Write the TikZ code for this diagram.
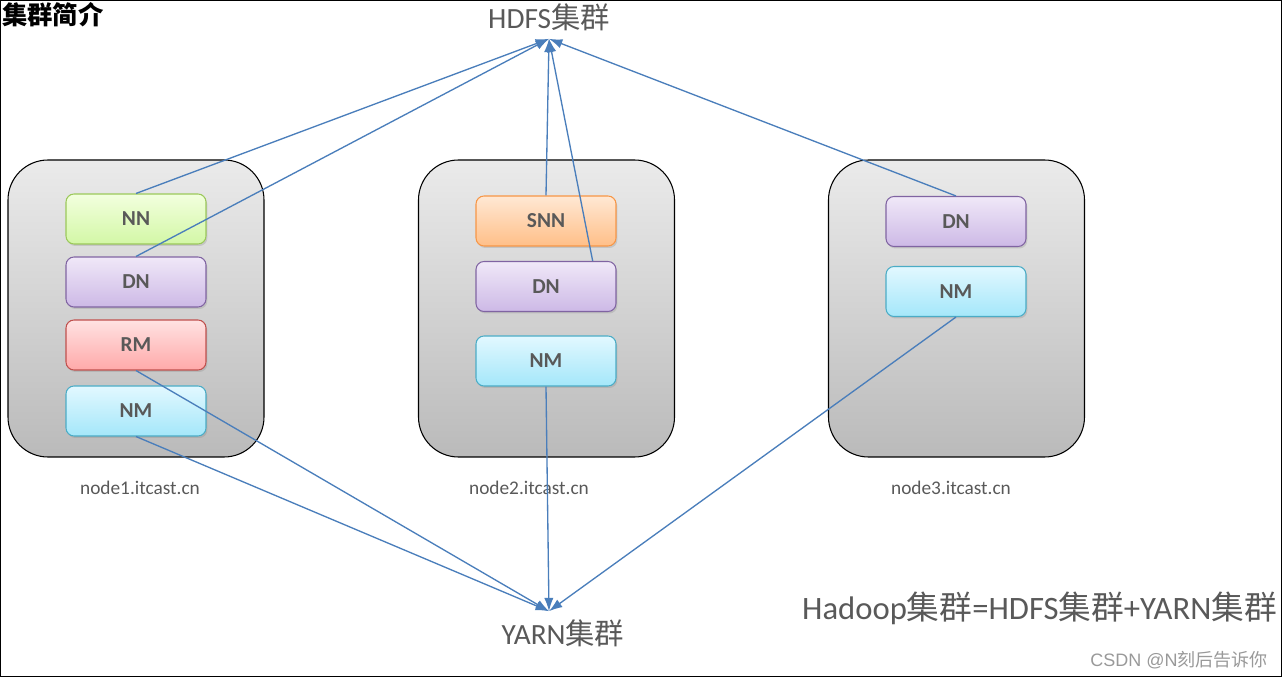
\documentclass[tikz,border=0pt]{standalone}
\usepackage{fontspec}
\setmainfont{Carlito}
\newfontfamily\cjk{Noto Sans CJK SC}
\newfontfamily\wmfont{Liberation Sans}
\usetikzlibrary{arrows.meta,shadows}
\definecolor{txtgray}{HTML}{595959}
\definecolor{linkblue}{HTML}{4A7EBB}
\definecolor{nntop}{HTML}{F2FFDE}\definecolor{nnbot}{HTML}{D3F7A6}\definecolor{nnline}{HTML}{9BC85A}
\definecolor{dntop}{HTML}{F0E8F8}\definecolor{dnbot}{HTML}{CDB9E6}\definecolor{dnline}{HTML}{8064A2}
\definecolor{rmtop}{HTML}{FFE2E2}\definecolor{rmbot}{HTML}{FFA9A9}\definecolor{rmline}{HTML}{C0504D}
\definecolor{nmtop}{HTML}{E2F8FF}\definecolor{nmbot}{HTML}{A4E7FA}\definecolor{nmline}{HTML}{4BACC6}
\definecolor{snntop}{HTML}{FFE8D4}\definecolor{snnbot}{HTML}{FFBF88}\definecolor{snnline}{HTML}{F79646}
\tikzset{
  host/.style={draw=black, line width=0.8pt, rounded corners=30pt, top color=black!8, bottom color=black!27,
    minimum width=192pt, minimum height=222.75pt},
  role/.style={rounded corners=6pt, line width=0.8pt, minimum width=105pt, minimum height=37.5pt,
    text=txtgray, font=\fontsize{16}{18}\selectfont\bfseries,
    drop shadow={opacity=0.25, shadow xshift=1pt, shadow yshift=-1.5pt}},
  nnbox/.style={role, draw=nnline, top color=nntop, bottom color=nnbot},
  dnbox/.style={role, draw=dnline, top color=dntop, bottom color=dnbot},
  rmbox/.style={role, draw=rmline, top color=rmtop, bottom color=rmbot},
  nmbox/.style={role, draw=nmline, top color=nmtop, bottom color=nmbot},
  snnbox/.style={role, draw=snnline, top color=snntop, bottom color=snnbot},
  hostname/.style={text=txtgray, font=\fontsize{14.5}{16}\selectfont},
  biglabel/.style={text=txtgray, font=\fontsize{22}{24}\selectfont},
  link/.style={draw=linkblue, line width=1pt, -{Latex[length=10pt,width=7pt]}},
}
\begin{document}
\begin{tikzpicture}[x=0.75pt, y=-0.75pt]
	%%%%% FRAME %%%%%
	\useasboundingbox (0,0) rectangle (1283,677);
	\draw[line width=1pt] (0.5,0.5) rectangle (1281.5,676.3);
	\node[anchor=north west, inner sep=0pt, font=\cjk\bfseries\fontsize{19}{21}\selectfont] (title) at (2,2) {集群简介};
	
	%%%%% HOSTS %%%%%
	\node[host] (host1) at (136,308.5) {};
	\node[host] (host2) at (546.5,308.5) {};
	\node[host] (host3) at (956.5,308.5) {};
	
	\node[nnbox] (nn1) at (136,219) {NN};
	\node[dnbox] (dn1) at (136,282) {DN};
	\node[rmbox] (rm1) at (136,345) {RM};
	\node[nmbox] (nm1) at (136,411) {NM};
	
	\node[snnbox] (snn2) at (546,221) {SNN};
	\node[dnbox] (dn2) at (546,286.5) {DN};
	\node[nmbox] (nm2) at (546,361) {NM};
	
	\node[dnbox] (dn3) at (956,221.5) {DN};
	\node[nmbox] (nm3) at (956,291.5) {NM};
	
	\node[hostname] (name1) at (140,488) {node1.itcast.cn};
	\node[hostname] (name2) at (529,488) {node2.itcast.cn};
	\node[hostname] (name3) at (951,488) {node3.itcast.cn};
	
	%%%%% CLUSTERS %%%%%
	\node[biglabel, inner sep=6pt] (hdfs) at (549,17) {HDFS{\cjk 集群}};
	\node[biglabel, inner sep=6pt] (yarn) at (563,633) {YARN{\cjk 集群}};
	\node[text=txtgray, font=\fontsize{24.5}{27}\selectfont, anchor=east, inner sep=0pt] (sum) at (1277,608)
		{Hadoop{\cjk 集群}=HDFS{\cjk 集群}+YARN{\cjk 集群}};
	\node[text=black!40, font=\wmfont\fontsize{13.5}{15}\selectfont, anchor=east, inner sep=0pt] (mark) at (1268,660)
		{CSDN @N{\cjk 刻后告诉你}};
	
	%%%%% LINKS %%%%%
	\draw[link] (nn1.north) -- (hdfs.south);
	\draw[link] (dn1.north) -- (hdfs.south);
	\draw[link] (snn2.north) -- (hdfs.south);
	\draw[link] ([xshift=35pt]dn2.north) -- (hdfs.south);
	\draw[link] (dn3.north) -- (hdfs.south);
	
	\draw[link] (rm1.south) -- ([xshift=-10.5pt]yarn.north);
	\draw[link] (nm1.south) -- ([xshift=-10.5pt]yarn.north);
	\draw[link] (nm2.south) -- ([xshift=-10.5pt]yarn.north);
	\draw[link] (nm3.south) -- ([xshift=-10.5pt]yarn.north);
\end{tikzpicture}
\end{document}
